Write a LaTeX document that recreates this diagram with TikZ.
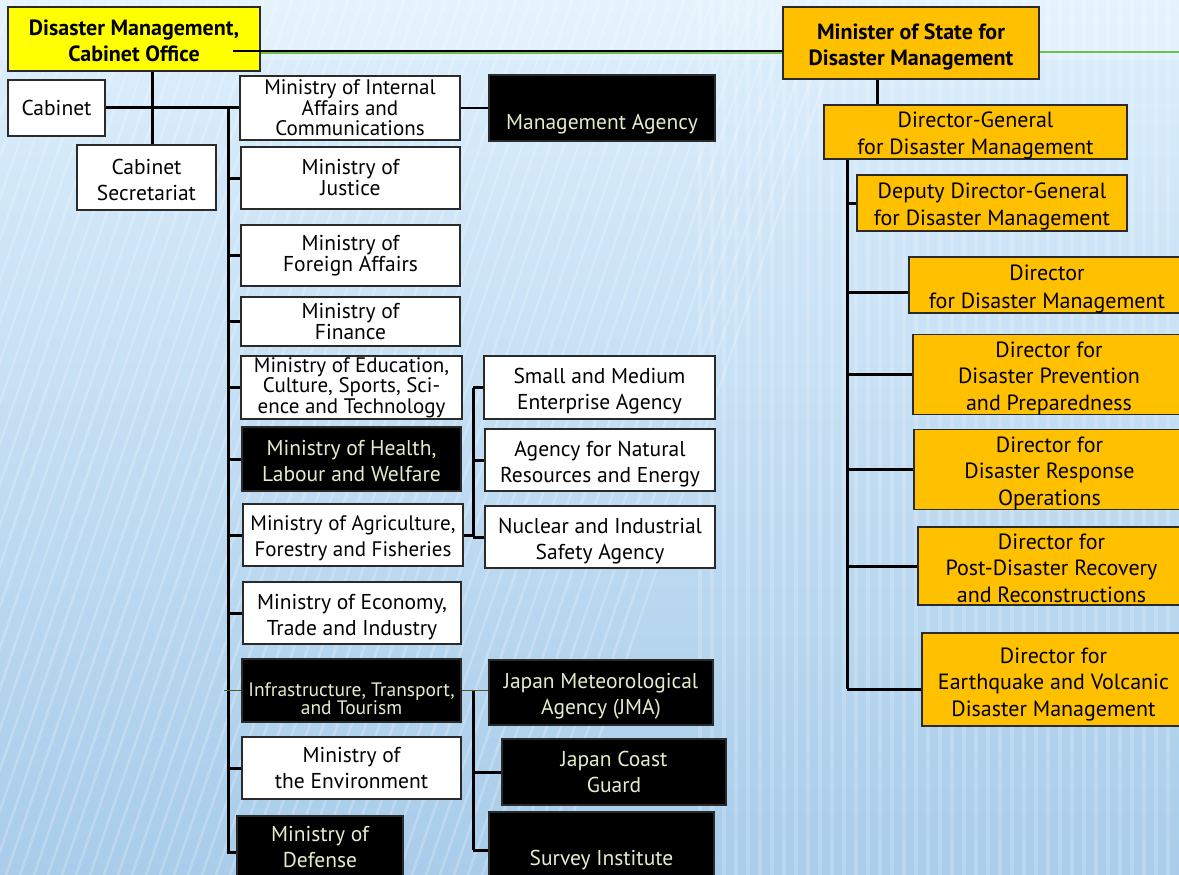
\documentclass[tikz,border=0pt]{standalone}
\usepackage{fontspec}
\setmainfont{PT Sans}
\usetikzlibrary{calc}
\definecolor{bgtop}{HTML}{DDEFFC}
\definecolor{bgbot}{HTML}{A8CCEA}
\definecolor{ylw}{HTML}{FFFF00}
\definecolor{org}{HTML}{FFC000}
\definecolor{btxt}{HTML}{E3EDCC}
\definecolor{grn}{HTML}{6CC04A}
\definecolor{olv}{HTML}{5A5A22}
\definecolor{bord}{HTML}{2A2A2A}
\newcommand\myDn[1][23]{\rule{0pt}{#1pt}}
\tikzset{
  box/.style={draw=bord,line width=1.2pt,rectangle,inner sep=0pt,align=center,text=black,
    font=\fontsize{21.5}{26}\selectfont},
  sz/.style 2 args={minimum width=#1pt,minimum height=#2pt},
  wbox/.style={box,fill=white},
  kbox/.style={box,fill=black,text=btxt},
  obox/.style={box,fill=org,font=\fontsize{22}{26.5}\selectfont},
  ybox/.style={box,fill=ylw,font=\fontsize{22}{26}\selectfont\bfseries},
  tight/.style={font=\fontsize{21.5}{21}\selectfont},
  ktext/.style={inner sep=0pt,align=center,text=btxt,font=\fontsize{21.5}{26}\selectfont},
  trunk/.style={line width=3pt,black},
  thin/.style={line width=1.6pt,black},
  oline/.style={line width=1.6pt,olv},
}
\begin{document}
\begin{tikzpicture}[x=1pt,y=-1pt]
\useasboundingbox (0,0) rectangle (1179,875);
% background
\shade[top color=bgtop,bottom color=bgbot] (0,0) rectangle (1179,875);
\begin{scope}
\clip (0,0) rectangle (1179,875);
\foreach \i in {-400,-386,...,560} {
  \draw[white,opacity=0.22,line width=2.5pt] (\i,875) -- (\i+300,0);
}
\foreach \i in {700,712,...,1179} {
  \draw[white,opacity=0.18,line width=4pt] (\i,0) -- (\i,875);
}
\fill[white,opacity=0.25] (0,0) rectangle (1179,60);
\end{scope}

% ---- left column nodes
\node[ybox,sz={252}{64}] (dmco) at (134,39) {\myDn[20]Disaster Management,\\Cabinet Office};
\node[wbox,sz={97}{56}] (cab) at (56.5,108) {Cabinet};
\node[wbox,sz={139}{65}] (cabsec) at (146.5,177.5) {\myDn[20]Cabinet\\Secretariat};
\node[wbox,sz={220}{64},font=\fontsize{21}{20.5}\selectfont] (miac) at (350,108) {Ministry of Internal\\Affairs and\\Communications};
\node[kbox,sz={226}{66}] (mgmt) at (602,108) {};
\node[ktext] (mgmtT) at (602,124) {Management Agency};
\node[wbox,tight,sz={219}{62}] (just) at (350.5,178) {Ministry of\\Justice};
\node[wbox,tight,sz={219}{61}] (forg) at (350.5,255.5) {Ministry of\\Foreign Affairs};
\node[wbox,tight,sz={219}{49}] (fin) at (350.5,321.5) {Ministry of\\Finance};
\node[wbox,sz={221}{63},font=\fontsize{21}{20.5}\selectfont] (edu) at (351.5,387.5) {Ministry of Education,\\Culture, Sports, Sci-\\ence and Technology};
\node[kbox,sz={219}{64}] (hlth) at (351.5,459) {\myDn[19]Ministry of Health,\\Labour and Welfare};
\node[wbox,sz={220}{62},font=\fontsize{21}{26}\selectfont] (agri) at (353,535) {\myDn[22]Ministry of Agriculture,\\Forestry and Fisheries};
\node[wbox,sz={218}{62}] (econ) at (352,613) {\myDn Ministry of Economy,\\Trade and Industry};
\node[kbox,sz={219}{63}] (infra) at (351.5,690.5) {};
\node[ktext,font=\fontsize{19.5}{18}\selectfont] (infraT) at (351.5,698.5) {Infrastructure, Transport,\\and Tourism};
\node[wbox,sz={219}{62}] (env) at (351.5,768) {Ministry of\\the Environment};
\node[kbox,sz={166}{72}] (def) at (320,852) {};
\node[ktext] (defT) at (320,847) {Ministry of\\Defense};

\node[wbox,sz={231}{63}] (sme) at (599.5,387.5) {\myDn Small and Medium\\Enterprise Agency};
\node[wbox,sz={230}{62}] (nre) at (600,460) {\myDn Agency for Natural\\Resources and Energy};
\node[wbox,sz={230}{62}] (nisa) at (600,537) {\myDn Nuclear and Industrial\\Safety Agency};
\node[kbox,sz={224}{65}] (jma) at (601,692.5) {\myDn Japan Meteorological\\Agency (JMA)};
\node[kbox,sz={224}{66}] (jcg) at (614,772) {Japan Coast\\Guard};
\node[kbox,sz={225}{76}] (gsi) at (601.5,850) {};
\node[ktext] (gsiT) at (601.5,860) {Survey Institute};

% ---- right column nodes
\node[ybox,fill=org,sz={256}{72}] (mos) at (911,43) {\myDn Minister of State for\\Disaster Management};
\node[obox,sz={303}{50}] (dg) at (975.5,132) {\myDn Director-General\\for Disaster Management};
\node[obox,sz={270}{56}] (ddg) at (992,203) {\myDn Deputy Director-General\\for Disaster Management};
\node[obox,sz={276}{56},font=\fontsize{22}{28}\selectfont] (ddm) at (1047,285) {\myDn Director\\for Disaster Management};
\node[obox,sz={272}{79}] (dpp) at (1049,374.5) {\myDn Director for\\Disaster Prevention\\and Preparedness};
\node[obox,sz={271}{73}] (dro) at (1049.5,469.5) {\myDn Director for\\Disaster Response\\Operations};
\node[obox,sz={267}{78}] (drr) at (1051.5,566) {\myDn[20]Director for\\Post-Disaster Recovery\\and Reconstructions};
\node[obox,sz={263}{93}] (devd) at (1053.5,679.5) {\myDn[25]Director for\\Earthquake and Volcanic\\Disaster Management};

% ---- coordinates
\coordinate (c1) at (233,51);
\coordinate (edge) at (1179,52);
\coordinate (vx1) at (152,0);
\coordinate (tx) at (228,0);
\coordinate (ax) at (473,0);
\coordinate (rx1) at (877,0);
\coordinate (rx2) at (847,0);

% ---- connectors
\draw[grn,line width=2.5pt] ([yshift=-2pt]dmco.east |- c1) -- ([yshift=-2pt]mos.west |- c1);
\draw[grn,line width=2.5pt] ([yshift=-1pt]mos.east |- c1) -- (edge);
\draw[trunk,line width=2.4pt] (c1) -- (mos.west |- c1);
\draw[trunk] (dmco.south -| vx1) -- (cabsec.north -| vx1);
\draw[trunk] (cab.east) -- (miac.west);
\draw[trunk] (cab.east -| tx) -- (def.west -| tx) -- (def.west);
\foreach \n in {just,forg,fin,edu,hlth,agri,econ,env} {
  \draw[trunk] (\n.west -| tx) -- (\n.west);
}
\draw[oline] ([xshift=-4pt]infra.west -| tx) -- (infra.west);
\draw[thin] (miac.east) -- (mgmt.west);
% agriculture bracket
\draw[trunk] (agri.east) -- (agri.east -| ax);
\draw[trunk] (sme.west -| ax) -- (nisa.west -| ax);
\foreach \n in {sme,nre,nisa} {
  \draw[trunk] (\n.west -| ax) -- (\n.west);
}
% infrastructure bracket
\draw[oline] (infra.east) -- (jma.west |- infra.east);
\draw[trunk] (infra.east -| ax) -- (gsi.west -| ax);
\draw[trunk] (jcg.west -| ax) -- (jcg.west);
\draw[trunk] (gsi.west -| ax) -- (gsi.west);
% right column
\draw[trunk] (mos.south -| rx1) -- (dg.north -| rx1);
\draw[trunk] (dg.south -| rx2) -- ([yshift=-9.5pt]devd.west -| rx2);
\draw[trunk] (ddg.west -| rx2) -- (ddg.west);
\draw[trunk] ([yshift=-7pt]ddm.west -| rx2) -- ([yshift=-7pt]ddm.west);
\foreach \n in {dpp,dro,drr} {
  \draw[trunk] (\n.west -| rx2) -- (\n.west);
}
\draw[trunk] ([yshift=-9.5pt]devd.west -| rx2) -- ([yshift=-9.5pt]devd.west);
\end{tikzpicture}
\end{document}
